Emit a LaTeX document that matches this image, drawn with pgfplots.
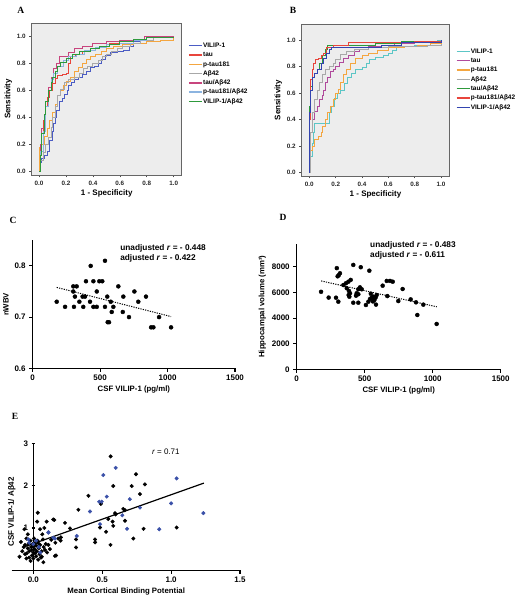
\documentclass[border=0pt]{standalone}
\usepackage{fontspec}
\setmainfont{Liberation Sans}
\newfontfamily\lettfont{Liberation Serif}
\usepackage{pgfplots}
\pgfplotsset{compat=1.18}
\definecolor{aBlue}{HTML}{4B5CC4}
\definecolor{aRed}{HTML}{E8453C}
\definecolor{aOrange}{HTML}{F4A640}
\definecolor{aGray}{HTML}{A8A8A8}
\definecolor{aMag}{HTML}{C8457E}
\definecolor{aLBlue}{HTML}{8CB4E0}
\definecolor{aGreen}{HTML}{2E9A3C}
\definecolor{bTeal}{HTML}{5CC6C6}
\definecolor{bPurple}{HTML}{B04A9C}
\definecolor{bBlue}{HTML}{3344B0}
\definecolor{eBlue}{HTML}{3A50A8}
\pgfplotsset{
  rocstyle/.style={
    scale only axis,
    xmin=-0.055, xmax=1.06, ymin=-0.025, ymax=1.10,
    axis background/.style={fill=black!7},
    axis line style={black!60, line width=0.8pt},
    xtick={0,0.2,0.4,0.6,0.8,1}, ytick={0,0.2,0.4,0.6,0.8,1},
    xtick pos=bottom, ytick pos=left, tick align=outside,
    major tick length=2.5pt, tick style={black!70, line width=0.6pt},
    /pgf/number format/assume math mode=true,
    xticklabel style={/pgf/number format/.cd, fixed, fixed zerofill, precision=1},
    yticklabel style={/pgf/number format/.cd, fixed, fixed zerofill, precision=1},
    tick label style={font=\fontsize{6.3}{7}\selectfont\bfseries, text=black!85},
    label style={font=\fontsize{8}{9}\selectfont\bfseries},
    xlabel={1 - Specificity}, ylabel={Sensitivity},
    xlabel style={yshift=3pt}, ylabel style={yshift=-2pt},
    legend cell align=left,
    legend image code/.code={\draw[#1, line width=1.4pt] (0pt,0pt) -- (13pt,0pt);},
    legend style={draw=none, fill=none, anchor=north west,
      font=\fontsize{6.5}{7}\selectfont\bfseries, row sep=1.8pt,
      nodes={inner sep=0.5pt, text height=5pt, text depth=1.5pt}},
    every axis plot/.append style={const plot, line width=0.9pt},
  },
  prism/.style={
    scale only axis, clip=false,
    axis x line=bottom, axis y line=left,
    axis line style={-, line width=1.1pt},
    every outer x axis line/.append style={-},
    every outer y axis line/.append style={-},
    tick style={black, line width=1.1pt}, major tick length=3.5pt, tick align=outside,
    /pgf/number format/assume math mode=true,
    /pgf/number format/1000 sep={},
    tick label style={font=\fontsize{8}{9}\selectfont\bfseries},
    label style={font=\fontsize{7.8}{9}\selectfont\bfseries},
  },
}
\begin{document}
\begin{tikzpicture}
\useasboundingbox (0,0) rectangle (517pt,601pt);
% ---------------- Panel A ----------------
\begin{axis}[rocstyle, at={(31.7pt,426pt)}, anchor=south west, width=150pt, height=152pt,
  legend style={at={(1.022,0.89)}}]
\addplot[aBlue] coordinates {(0,0)(0.01,0.07)(0.02,0.10)(0.04,0.12)(0.06,0.15)(0.08,0.23)(0.10,0.30)(0.11,0.36)(0.12,0.40)(0.13,0.45)(0.15,0.52)(0.17,0.54)(0.19,0.57)(0.21,0.60)(0.22,0.64)(0.24,0.66)(0.26,0.68)(0.29,0.70)(0.32,0.72)(0.35,0.74)(0.38,0.77)(0.41,0.78)(0.44,0.80)(0.46,0.83)(0.49,0.86)(0.53,0.88)(0.58,0.89)(0.63,0.90)(0.67,0.93)(0.70,0.96)(0.75,0.97)(0.85,0.99)(1.0,1.0)};
\addlegendentry{VILIP-1}
\addplot[aRed] coordinates {(0,0)(0.005,0.18)(0.02,0.28)(0.03,0.38)(0.05,0.48)(0.06,0.55)(0.08,0.60)(0.10,0.65)(0.12,0.69)(0.14,0.71)(0.17,0.72)(0.20,0.73)(0.22,0.80)(0.23,0.85)(0.27,0.87)(0.32,0.89)(0.38,0.91)(0.45,0.93)(0.52,0.95)(0.60,0.96)(0.70,0.97)(0.80,0.99)(1,1)};
\addlegendentry{tau}
\addplot[aOrange] coordinates {(0,0)(0,0.18)(0.02,0.20)(0.04,0.26)(0.06,0.32)(0.08,0.38)(0.10,0.44)(0.12,0.50)(0.14,0.56)(0.16,0.60)(0.18,0.64)(0.20,0.67)(0.23,0.70)(0.26,0.74)(0.29,0.77)(0.32,0.80)(0.35,0.83)(0.38,0.85)(0.42,0.87)(0.46,0.89)(0.50,0.91)(0.55,0.93)(0.62,0.94)(0.70,0.95)(0.80,0.96)(0.90,0.97)(1,1)};
\addlegendentry{p-tau181}
\addplot[aGray] coordinates {(0,0)(0.01,0.08)(0.03,0.14)(0.05,0.20)(0.07,0.25)(0.09,0.33)(0.10,0.40)(0.12,0.48)(0.14,0.56)(0.16,0.61)(0.19,0.66)(0.22,0.68)(0.26,0.70)(0.30,0.73)(0.33,0.76)(0.36,0.78)(0.40,0.80)(0.44,0.82)(0.47,0.85)(0.50,0.87)(0.54,0.89)(0.58,0.91)(0.62,0.93)(0.68,0.95)(0.75,0.97)(0.85,0.99)(1,1)};
\addlegendentry{Aβ42}
\addplot[aMag] coordinates {(0,0)(0.01,0.20)(0.02,0.32)(0.04,0.42)(0.05,0.52)(0.07,0.62)(0.09,0.70)(0.11,0.76)(0.13,0.80)(0.15,0.85)(0.20,0.85)(0.22,0.88)(0.26,0.91)(0.32,0.93)(0.40,0.95)(0.50,0.96)(0.60,0.97)(0.70,0.98)(0.78,1.0)(1,1)};
\addlegendentry{tau/Aβ42}
\addplot[aLBlue] coordinates {(0,0)(0.01,0.15)(0.03,0.30)(0.05,0.48)(0.07,0.60)(0.09,0.68)(0.11,0.73)(0.14,0.78)(0.18,0.82)(0.22,0.85)(0.28,0.87)(0.34,0.90)(0.42,0.92)(0.50,0.94)(0.60,0.95)(0.70,0.97)(0.80,0.99)(1,1)};
\addlegendentry{p-tau181/Aβ42}
\addplot[aGreen] coordinates {(0,0)(0.01,0.12)(0.02,0.28)(0.04,0.42)(0.05,0.52)(0.07,0.60)(0.09,0.66)(0.10,0.70)(0.12,0.74)(0.14,0.78)(0.16,0.81)(0.20,0.84)(0.25,0.87)(0.30,0.89)(0.38,0.91)(0.45,0.93)(0.52,0.94)(0.60,0.96)(0.70,0.98)(0.80,0.99)(1,1)};
\addlegendentry{VILIP-1/Aβ42}
\end{axis}
% ---------------- Panel B ----------------
\begin{axis}[rocstyle, at={(301.7pt,425pt)}, anchor=south west, width=147.6pt, height=151.7pt,
  xmin=-0.058, xmax=1.063, ymin=-0.025, ymax=1.118,
  legend style={at={(1.023,0.86)}}]
\addplot[bTeal] coordinates {(0,0)(0.01,0.12)(0.02,0.22)(0.03,0.30)(0.04,0.37)(0.15,0.37)(0.15,0.45)(0.17,0.50)(0.19,0.56)(0.21,0.60)(0.24,0.62)(0.27,0.67)(0.29,0.72)(0.32,0.75)(0.35,0.78)(0.40,0.79)(0.43,0.82)(0.46,0.85)(0.50,0.87)(0.56,0.88)(0.60,0.90)(0.63,0.92)(0.66,0.94)(0.72,0.95)(0.80,0.96)(0.92,0.97)(0.97,1.0)(1,1)};
\addlegendentry{VILIP-1}
\addplot[bPurple] coordinates {(0,0)(0.005,0.20)(0.01,0.30)(0.02,0.40)(0.04,0.46)(0.06,0.50)(0.08,0.55)(0.10,0.58)(0.11,0.62)(0.12,0.68)(0.14,0.72)(0.16,0.76)(0.18,0.78)(0.20,0.80)(0.23,0.83)(0.26,0.86)(0.30,0.88)(0.34,0.91)(0.38,0.93)(0.45,0.95)(0.55,0.96)(0.65,0.97)(0.80,0.98)(1,1)};
\addlegendentry{tau}
\addplot[aOrange] coordinates {(0,0)(0,0.17)(0.02,0.20)(0.04,0.25)(0.07,0.27)(0.09,0.30)(0.10,0.35)(0.12,0.40)(0.14,0.45)(0.16,0.50)(0.18,0.55)(0.20,0.60)(0.22,0.63)(0.24,0.68)(0.26,0.74)(0.28,0.78)(0.31,0.82)(0.35,0.86)(0.40,0.88)(0.45,0.90)(0.52,0.92)(0.60,0.94)(0.72,0.95)(0.82,0.96)(0.92,0.97)(1,0.98)};
\addlegendentry{p-tau181}
\addplot[aGray] coordinates {(0,0)(0.005,0.30)(0.02,0.45)(0.04,0.55)(0.06,0.62)(0.08,0.68)(0.10,0.74)(0.12,0.78)(0.15,0.80)(0.18,0.82)(0.20,0.85)(0.24,0.89)(0.28,0.91)(0.34,0.93)(0.45,0.94)(0.60,0.95)(0.80,0.95)(0.90,0.96)(1,0.97)};
\addlegendentry{Aβ42}
\addplot[aGreen] coordinates {(0,0)(0,0.50)(0.01,0.65)(0.02,0.72)(0.04,0.75)(0.06,0.78)(0.08,0.82)(0.10,0.88)(0.12,0.93)(0.14,0.96)(0.30,0.96)(0.50,0.97)(0.70,0.99)(1,1)};
\addlegendentry{tau/Aβ42}
\addplot[aRed] coordinates {(0,0)(0,0.40)(0.01,0.70)(0.02,0.78)(0.03,0.82)(0.05,0.85)(0.07,0.86)(0.09,0.88)(0.11,0.90)(0.13,0.94)(0.18,0.96)(0.30,0.98)(0.60,0.98)(0.80,0.99)(1,1)};
\addlegendentry{p-tau181/Aβ42}
\addplot[bBlue] coordinates {(0,0)(0,0.45)(0.01,0.62)(0.02,0.72)(0.04,0.75)(0.06,0.78)(0.09,0.82)(0.11,0.86)(0.13,0.90)(0.15,0.93)(0.17,0.94)(0.40,0.94)(0.55,0.96)(0.70,0.98)(1,1)};
\addlegendentry{VILIP-1/Aβ42}
\end{axis}
% ---------------- Panel C ----------------
\begin{axis}[prism, at={(32.7pt,232.7pt)}, anchor=south west, width=202.3pt, height=128pt,
  xmin=0, xmax=1500, ymin=0.6, ymax=0.85,
  xtick={0,500,1000,1500}, ytick={0.6,0.7,0.8},
  yticklabel style={/pgf/number format/.cd, fixed, fixed zerofill, precision=1},
  xlabel={CSF VILIP-1 (pg/ml)}, ylabel={nWBV},
  xlabel style={yshift=2pt}, ylabel style={yshift=-1pt}]
\addplot[only marks, mark=*, mark size=2pt, black] coordinates {
(536,0.81)(430,0.80)(395,0.77)(450,0.77)(494,0.77)(516,0.77)(301,0.76)(326,0.76)(635,0.76)
(301,0.75)(475,0.75)(754,0.75)(313,0.74)(370,0.74)(388,0.74)(553,0.74)(672,0.74)(840,0.74)
(178,0.73)(346,0.73)(425,0.73)(579,0.73)(783,0.73)(240,0.72)(306,0.72)(375,0.72)(450,0.72)
(475,0.72)(536,0.72)(598,0.72)(586,0.71)(668,0.71)(714,0.70)(937,0.70)(556,0.69)(566,0.69)
(878,0.68)(895,0.68)(1026,0.68)};
\addplot[black, line width=1pt, dash pattern=on 1.2pt off 1.2pt] coordinates {(178,0.758)(1026,0.701)};
\node[anchor=west, font=\fontsize{8.3}{9}\selectfont\bfseries, inner sep=0pt] at (axis cs:648,0.835) {unadjusted \textit{r} = - 0.448};
\node[anchor=west, font=\fontsize{8.3}{9}\selectfont\bfseries, inner sep=0pt] at (axis cs:648,0.815) {adjusted \textit{r} = - 0.422};
\end{axis}
% ---------------- Panel D ----------------
\begin{axis}[prism, at={(296.7pt,231.7pt)}, anchor=south west, width=204pt, height=125.5pt,
  xmin=0, xmax=1500, ymin=0, ymax=9800,
  xtick={0,500,1000,1500}, ytick={0,2000,4000,6000,8000},
  scaled y ticks=false,
  xlabel={CSF VILIP-1 (pg/ml)}, ylabel={Hippocampal volume (mm³)},
  xlabel style={yshift=2pt}, ylabel style={yshift=-1pt}]
\addplot[only marks, mark=*, mark size=2pt, black] coordinates {
(179,6050)(235,5600)(289,5590)(306,5280)(301,7260)(295,7900)(318,7500)(309,7350)(343,6580)
(362,6720)(380,6840)(397,6980)(368,6330)(384,6120)(392,5940)(416,8150)(471,7970)(534,7700)
(465,6400)(478,6250)(453,6250)(441,5940)(453,5860)(436,5750)(382,5800)(387,5670)(416,5200)
(453,5200)(509,5020)(527,5280)(539,5490)(551,5590)(563,5670)(588,5800)(571,5410)(545,5900)
(560,5300)(580,5600)(583,5050)(632,6530)(662,6900)(686,6900)(706,6840)(779,6270)(666,5720)
(747,5330)(838,5460)(877,5230)(931,5050)(887,4240)(1029,3540)};
\addplot[black, line width=1pt, dash pattern=on 1.2pt off 1.2pt] coordinates {(180,6900)(1030,4880)};
\node[anchor=west, font=\fontsize{8.3}{9}\selectfont\bfseries, inner sep=0pt] at (axis cs:539,9700) {unadjusted \textit{r} = - 0.483};
\node[anchor=west, font=\fontsize{8.3}{9}\selectfont\bfseries, inner sep=0pt] at (axis cs:539,8920) {adjusted \textit{r} = - 0.611};
\end{axis}
% ---------------- Panel E ----------------
\begin{axis}[prism, axis y line=middle, axis line style={-, line width=1.1pt},
  every inner y axis line/.append style={-},
  at={(11.7pt,30.7pt)}, anchor=south west, width=229pt, height=127pt,
  xmin=-0.157, xmax=1.505, ymin=0, ymax=3.0,
  xtick={0,0.5,1,1.5}, ytick={1,2,3},
  xticklabel style={/pgf/number format/.cd, fixed, fixed zerofill, precision=1},
  xlabel={Mean Cortical Binding Potential}, ylabel={CSF VILIP-1/ Aβ42},
  xlabel style={yshift=2pt},
  every axis y label/.style={at={(axis description cs:0.0,0.46)}, rotate=90, anchor=center,
    font=\fontsize{8}{9}\selectfont\bfseries}]
\addplot[only marks, mark=*, mark size=1.8pt, black] coordinates {
(-0.10,0.32)(-0.09,0.67)(-0.08,0.45)(-0.07,0.55)(-0.065,0.97)(-0.06,0.60)(-0.06,0.38)(-0.05,0.75)
(-0.05,0.28)(-0.048,0.40)(-0.04,0.52)(-0.04,0.85)(-0.035,0.62)(-0.03,0.30)(-0.03,0.45)(-0.02,0.70)
(-0.02,0.22)(-0.015,0.55)(-0.012,0.48)(-0.01,0.35)(-0.005,0.62)(0.0,0.56)(0.0,0.42)(0.0,0.28)
(0.005,0.75)(0.01,0.50)(0.012,0.40)(0.015,0.65)(0.02,0.33)(0.02,0.58)(0.025,0.45)(0.028,1.15)
(0.03,0.70)(0.032,1.36)(0.035,0.25)(0.036,0.64)(0.04,0.52)(0.045,0.38)(0.049,0.97)(0.05,0.60)
(0.055,0.30)(0.06,0.45)(0.061,0.32)(0.065,0.85)(0.07,0.73)(0.073,0.19)(0.075,0.55)(0.08,1.0)
(0.085,0.48)(0.09,0.62)(0.097,1.15)(0.10,0.42)(0.109,0.60)(0.12,0.50)(0.13,0.72)(0.145,1.20)
(0.152,1.19)(0.157,0.34)(0.16,0.65)(0.18,0.75)(0.198,0.70)(0.20,0.78)(0.23,1.12)(0.266,0.99)
(0.31,0.73)(0.31,0.54)(0.327,1.43)(0.561,2.69)(0.745,2.27)(0.58,1.99)(0.714,1.99)(0.81,2.03)
(0.774,1.80)(0.40,1.76)(0.49,1.57)(0.653,1.45)(0.665,1.42)(0.593,1.35)(0.597,1.32)(0.544,1.21)
(0.575,1.15)(0.58,1.05)(0.665,1.17)(0.484,1.01)(0.528,0.91)(0.80,0.98)(1.04,1.01)(0.726,0.75)
(0.448,0.73)(0.448,0.66)(0.56,0.60)(0.165,0.35)};
\addplot[only marks, mark=*, mark size=1.8pt, eBlue] coordinates {
(0.598,2.42)(0.508,2.25)(1.04,2.17)(0.533,1.74)(0.478,1.62)(0.496,1.62)(0.70,1.68)(1.00,1.58)
(0.774,1.48)(0.411,1.39)(1.234,1.35)(0.646,1.30)(0.484,1.09)(0.68,0.98)(0.914,0.97)(0.315,0.81)
(0.157,0.75)(0.109,0.89)(0.145,0.77)(-0.036,0.73)(-0.03,0.65)(0.02,0.70)(0.04,0.55)(0.05,0.42)
(0.0,0.62)(0.11,0.90)};
\addplot[black, line width=1.2pt] coordinates {(-0.06,0.56)(1.238,2.06)};
\node[anchor=west, font=\fontsize{8}{9}\selectfont, inner sep=0pt] at (axis cs:0.86,2.8) {\textit{r} = 0.71};
\end{axis}
% ---------------- Panel letters ----------------
\node[font=\lettfont\fontsize{9.5}{10}\selectfont\bfseries] at (20.7pt,591pt) {A};
\node[font=\lettfont\fontsize{9.5}{10}\selectfont\bfseries] at (293pt,591pt) {B};
\node[font=\lettfont\fontsize{9.5}{10}\selectfont\bfseries] at (13pt,381pt) {C};
\node[font=\lettfont\fontsize{9.5}{10}\selectfont\bfseries] at (283pt,384pt) {D};
\node[font=\lettfont\fontsize{9.5}{10}\selectfont\bfseries] at (15pt,185pt) {E};
\end{tikzpicture}
\end{document}
